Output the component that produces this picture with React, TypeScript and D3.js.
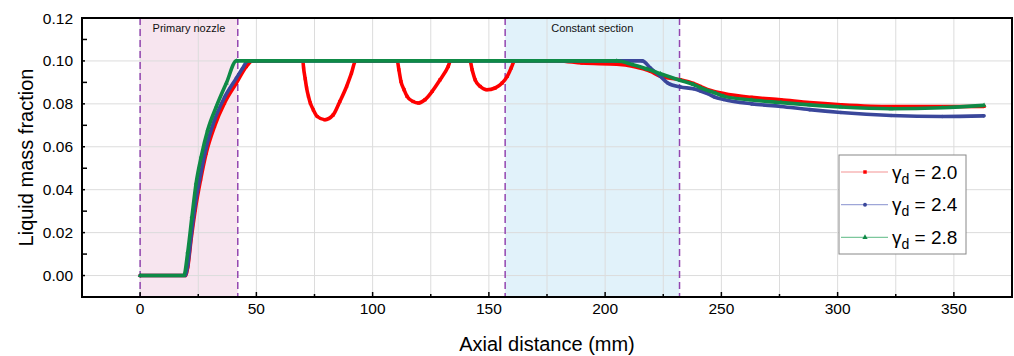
import React, { useEffect, useRef } from "react";
import * as d3 from "d3";

const W = 1014;
const H = 356;
const M = { top: 18, right: 2, bottom: 59, left: 82 };
const FONT = "'Liberation Sans', Arial, sans-serif";

// gamma_d = 2.0
const redX = [0, 19.5, 20.5, 22, 23.7, 26, 28.4, 32, 36.3, 41.4, 45.7, 48.3, 70, 70.3, 71, 71.6, 72.4, 73.2, 74.5, 76.2, 79.4, 83, 85.9, 88.8, 90.9, 92.7, 110.6, 111.3, 112.2, 113.5, 114.8, 117.4, 119.7, 122.5, 125.6, 129, 132.5, 133.5, 141.9, 142.8, 144.1, 146.3, 149.1, 152.7, 155.7, 157.9, 159.6, 161.1, 180, 190, 205, 212.3, 219.5, 223.8, 232.4, 238, 241, 245.4, 251, 263, 275.6, 288, 301.4, 323, 345, 363];
const redY = [0, 0, 0.004, 0.0175, 0.0306, 0.0446, 0.057, 0.0695, 0.0804, 0.0897, 0.0974, 0.1, 0.1, 0.0967, 0.0917, 0.0874, 0.0835, 0.0804, 0.0772, 0.0741, 0.0726, 0.0748, 0.0811, 0.0881, 0.0943, 0.1, 0.1, 0.0959, 0.0904, 0.0866, 0.0835, 0.0811, 0.0804, 0.0819, 0.0858, 0.0912, 0.0974, 0.1, 0.1, 0.0959, 0.0912, 0.0881, 0.0866, 0.0874, 0.0897, 0.0928, 0.0967, 0.1, 0.1, 0.099, 0.0985, 0.0974, 0.0951, 0.0928, 0.0912, 0.0895, 0.0881, 0.0862, 0.0848, 0.083, 0.0819, 0.0806, 0.0796, 0.0787, 0.0787, 0.0788];

// gamma_d = 2.4
const blueX = [0, 19.3, 20.5, 22, 23.7, 26, 28.4, 32, 36.3, 41.4, 44, 46.4, 216, 219.5, 223.8, 226.9, 232.4, 238, 241, 244, 247, 251, 263, 275.6, 288, 301.4, 323, 345, 363];
const blueY = [0, 0, 0.005, 0.019, 0.033, 0.047, 0.0595, 0.0725, 0.083, 0.092, 0.0965, 0.1, 0.1, 0.0967, 0.0928, 0.0897, 0.0878, 0.087, 0.086, 0.0848, 0.0832, 0.082, 0.08, 0.0788, 0.0773, 0.076, 0.0746, 0.0741, 0.0744];

// gamma_d = 2.8
const greenX = [0, 18.8, 20.5, 22.3, 24.1, 26.3, 29.1, 32.8, 37.1, 41.4, 205, 212, 218, 223.8, 232.4, 238, 241, 247.5, 251, 263, 275.6, 288, 301.4, 323, 345, 363];
const greenY = [0, 0, 0.011, 0.0275, 0.0431, 0.0555, 0.0679, 0.0788, 0.0897, 0.1, 0.1, 0.0982, 0.0962, 0.094, 0.0909, 0.089, 0.0875, 0.085, 0.0836, 0.0818, 0.0806, 0.0795, 0.0785, 0.0777, 0.0782, 0.0793];

const seriesLabels = ["2.0", "2.4", "2.8"];
const seriesColors = ["#ff0000", "#3a479b", "#0e8a46"];
const legendLineColors = ["#f39494", "#9ea6d8", "#7cc79c"];
const symbols = [d3.symbolSquare, d3.symbolCircle, d3.symbolTriangle];

const regionLabels = ["Primary nozzle", "Constant section"];
const regionStart = [0, 157];
const regionEnd = [42, 232];
const regionFills = ["#f7e5ef", "#e1f2fa"];

const xTicks = [0, 50, 100, 150, 200, 250, 300, 350];
const yTicks = [0, 0.02, 0.04, 0.06, 0.08, 0.1, 0.12];

export default function App() {
  const ref = useRef<SVGSVGElement>(null);

  useEffect(() => {
    document.body.style.margin = "0";
    const svg = d3.select(ref.current);
    svg.selectAll("*").remove();

    const x = d3.scaleLinear().domain([-25, 375]).range([M.left, W - M.right]);
    const y = d3.scaleLinear().domain([-0.01, 0.12]).range([H - M.bottom, M.top]);
    const top = M.top, bottom = H - M.bottom, left = M.left, right = W - M.right;

    // shaded sections
    const reg = svg.append("g");
    regionLabels.forEach((lab, i) => {
      reg.append("rect")
        .attr("x", x(regionStart[i])).attr("y", top)
        .attr("width", x(regionEnd[i]) - x(regionStart[i])).attr("height", bottom - top)
        .attr("fill", regionFills[i]);
    });

    // grid
    const grid = svg.append("g").attr("stroke", "#dcdcdc").attr("stroke-width", 1);
    grid.selectAll("line.gx").data(d3.range(-25, 376, 25)).join("line")
      .attr("x1", d => x(d)).attr("x2", d => x(d)).attr("y1", top).attr("y2", bottom);
    grid.selectAll("line.gy").data(yTicks).join("line")
      .attr("y1", d => y(d)).attr("y2", d => y(d)).attr("x1", left).attr("x2", right);

    // dashed boundaries + labels
    const dash = svg.append("g");
    regionLabels.forEach((lab, i) => {
      [regionStart[i], regionEnd[i]].forEach(v => {
        dash.append("line")
          .attr("x1", x(v)).attr("x2", x(v)).attr("y1", top).attr("y2", bottom)
          .attr("stroke", "#9346b0").attr("stroke-width", 1.5).attr("stroke-dasharray", "7,4");
      });
      svg.append("text")
        .attr("x", (x(regionStart[i]) + x(regionEnd[i])) / 2).attr("y", 32)
        .attr("text-anchor", "middle").attr("font-family", FONT).attr("font-size", 11)
        .attr("fill", "#111").text(lab);
    });

    // series
    const allX = [redX, blueX, greenX];
    const allY = [redY, blueY, greenY];
    const line = d3.line<[number, number]>()
      .x(d => x(d[0])).y(d => y(d[1]))
      .curve(d3.curveMonotoneX);
    allX.forEach((xs, i) => {
      const pts: [number, number][] = xs.map((v, j) => [v, allY[i][j]]);
      svg.append("path").attr("d", line(pts))
        .attr("fill", "none").attr("stroke", seriesColors[i])
        .attr("stroke-width", 3.6).attr("stroke-linejoin", "round");
      svg.append("g").selectAll("path").data(pts).join("path")
        .attr("d", d3.symbol(symbols[i], 10))
        .attr("transform", d => `translate(${x(d[0])},${y(d[1])})`)
        .attr("fill", seriesColors[i]);
    });

    // frame
    svg.append("rect").attr("x", left).attr("y", top)
      .attr("width", right - left).attr("height", bottom - top)
      .attr("fill", "none").attr("stroke", "#000").attr("stroke-width", 2);

    // axes ticks (inward)
    const ax = svg.append("g").attr("stroke", "#000").attr("stroke-width", 1.5);
    ax.selectAll("line.xt").data(d3.range(-25, 376, 25)).join("line")
      .attr("x1", d => x(d)).attr("x2", d => x(d))
      .attr("y1", bottom).attr("y2", d => bottom - (d % 50 === 0 ? 5 : 3));
    ax.selectAll("line.yt").data(d3.range(-1, 13).map(v => v / 100)).join("line")
      .attr("y1", d => y(d)).attr("y2", d => y(d))
      .attr("x1", left).attr("x2", (d, i) => left + ((i + 1) % 2 === 0 ? 3 : 5));

    svg.append("g").selectAll("text").data(xTicks).join("text")
      .attr("x", d => x(d)).attr("y", 314).attr("text-anchor", "middle")
      .attr("font-family", FONT).attr("font-size", 15.5).attr("fill", "#000")
      .text(d => String(d));
    svg.append("g").selectAll("text").data(yTicks).join("text")
      .attr("x", 73).attr("y", d => y(d) + 5.5).attr("text-anchor", "end")
      .attr("font-family", FONT).attr("font-size", 15.5).attr("fill", "#000")
      .text(d => d3.format(".2f")(d));

    svg.append("text").attr("x", (left + right) / 2).attr("y", 351)
      .attr("text-anchor", "middle").attr("font-family", FONT).attr("font-size", 20)
      .attr("fill", "#000").text("Axial distance (mm)");
    svg.append("text").attr("transform", `translate(33,${(top + bottom) / 2}) rotate(-90)`)
      .attr("text-anchor", "middle").attr("font-family", FONT).attr("font-size", 20)
      .attr("fill", "#000").text("Liquid mass fraction");

    // legend
    const lg = svg.append("g");
    lg.append("rect").attr("x", 839).attr("y", 155).attr("width", 127).attr("height", 99)
      .attr("fill", "#fff").attr("stroke", "#888").attr("stroke-width", 1);
    seriesLabels.forEach((lab, i) => {
      const cy = 172 + i * 32.7;
      lg.append("line").attr("x1", 841).attr("x2", 888).attr("y1", cy).attr("y2", cy)
        .attr("stroke", legendLineColors[i]).attr("stroke-width", 1.2);
      lg.append("path").attr("d", d3.symbol(symbols[i], 12))
        .attr("transform", `translate(865,${cy})`).attr("fill", seriesColors[i]);
      const t = lg.append("text").attr("x", 892).attr("y", cy + 6.5)
        .attr("font-family", FONT).attr("font-size", 19).attr("fill", "#000");
      t.append("tspan").text("γ");
      t.append("tspan").attr("font-size", 14).attr("dy", 5).text("d");
      t.append("tspan").attr("dy", -5).text(` = ${lab}`);
    });
  }, []);

  return <svg ref={ref} width={W} height={H} style={{ display: "block", background: "#fff" }} />;
}
